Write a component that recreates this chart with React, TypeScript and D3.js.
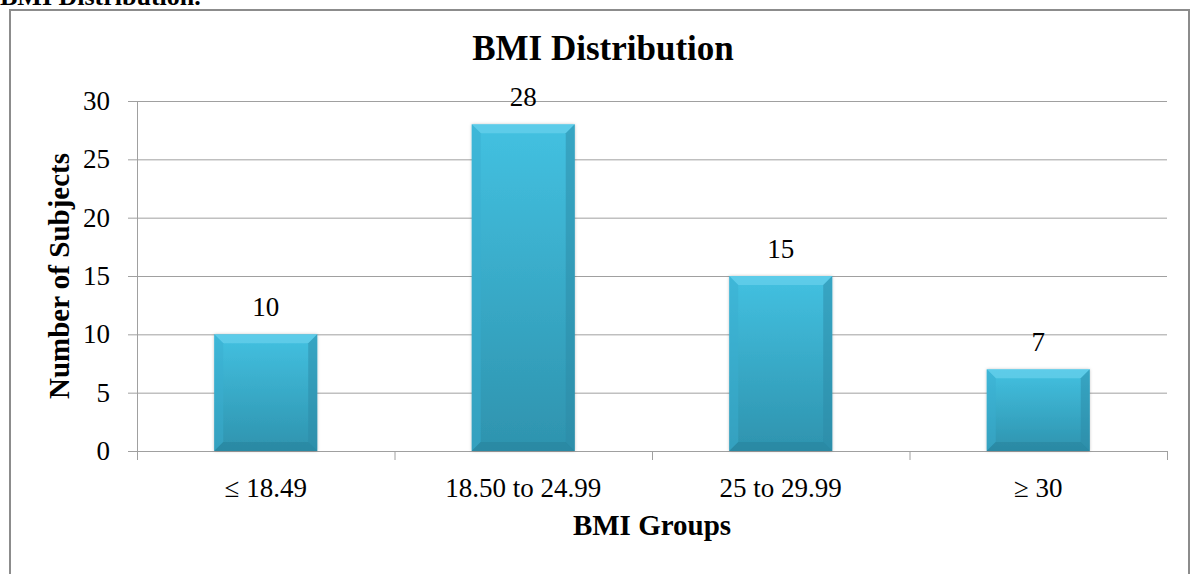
import React from "react";
import * as d3 from "d3";

const categories = ["≤ 18.49", "18.50 to 24.99", "25 to 29.99", "≥ 30"];
const values = [10, 28, 15, 7];
const yTicks = [0, 5, 10, 15, 20, 25, 30];

const W = 1192;
const H = 574;
const FONT = "'Liberation Serif', 'Times New Roman', serif";

export default function App() {
  const x = d3.scaleBand<string>().domain(categories).range([137, 1167]).paddingInner(0.6).paddingOuter(0.3);
  const y = d3.scaleLinear().domain([0, 30]).range([451, 101]);
  const boundaries = d3.range(categories.length + 1).map((i) => 137 + (i * (1167 - 137)) / categories.length);
  const b = 9;
  return (
    <svg width={W} height={H} style={{ position: "absolute", left: 0, top: 0 }} fontFamily={FONT}>
      <defs>
        <linearGradient id="barG" x1="0" y1="0" x2="0" y2="1">
          <stop offset="0" stopColor="#43c1e1" />
          <stop offset="1" stopColor="#2e93ae" />
        </linearGradient>
        <filter id="sh" x="-10%" y="-10%" width="120%" height="120%">
          <feDropShadow dx="0" dy="0" stdDeviation="1.5" floodColor="#000" floodOpacity="0.25" />
        </filter>
      </defs>
      <rect width={W} height={H} fill="#fff" />
      <text x={0} y={5} fontSize={26} fontWeight="bold">BMI Distribution.</text>
      <rect x={10} y={10} width={1179} height={580} fill="none" stroke="#8c8c8c" strokeWidth={2} />
      <text x={603} y={60} textAnchor="middle" fontSize={35} fontWeight="bold">BMI Distribution</text>
      {yTicks.map((t) => (
        <g key={t}>
          <line x1={128} x2={1167} y1={y(t) + 0.5} y2={y(t) + 0.5} stroke="#a0a0a0" strokeWidth={1} />
          <text x={110} y={y(t) + 9} textAnchor="end" fontSize={27}>{t}</text>
        </g>
      ))}
      <line x1={137.5} x2={137.5} y1={101} y2={451} stroke="#a0a0a0" />
      {boundaries.map((bx, i) => (
        <line key={i} x1={bx + 0.5} x2={bx + 0.5} y1={451} y2={460} stroke="#a0a0a0" />
      ))}
      {categories.map((c, i) => {
        const x0 = x(c)!;
        const w = x.bandwidth();
        const y0 = y(values[i]);
        const y1 = y(0);
        const x1 = x0 + w;
        return (
          <g key={c}>
            <rect x={x0} y={y0} width={w} height={y1 - y0} fill="url(#barG)" filter="url(#sh)" />
            <polygon points={`${x0},${y0} ${x1},${y0} ${x1 - b},${y0 + b} ${x0 + b},${y0 + b}`} fill="#6fd4ee" opacity={0.6} />
            <polygon points={`${x0},${y0} ${x0 + b},${y0 + b} ${x0 + b},${y1 - b} ${x0},${y1}`} fill="#3aaecf" opacity={0.5} />
            <polygon points={`${x1},${y0} ${x1 - b},${y0 + b} ${x1 - b},${y1 - b} ${x1},${y1}`} fill="#2c8aa6" opacity={0.5} />
            <polygon points={`${x0},${y1} ${x1},${y1} ${x1 - b},${y1 - b} ${x0 + b},${y1 - b}`} fill="#26809a" opacity={0.5} />
            <text x={x0 + w / 2} y={y0 - 18} textAnchor="middle" fontSize={27}>{values[i]}</text>
            <text x={x0 + w / 2} y={497} textAnchor="middle" fontSize={27}>{c}</text>
          </g>
        );
      })}
      <text x={652} y={535} textAnchor="middle" fontSize={29} fontWeight="bold">BMI Groups</text>
      <text transform={`translate(69,276) rotate(-90)`} textAnchor="middle" fontSize={29} fontWeight="bold">Number of Subjects</text>
    </svg>
  );
}
